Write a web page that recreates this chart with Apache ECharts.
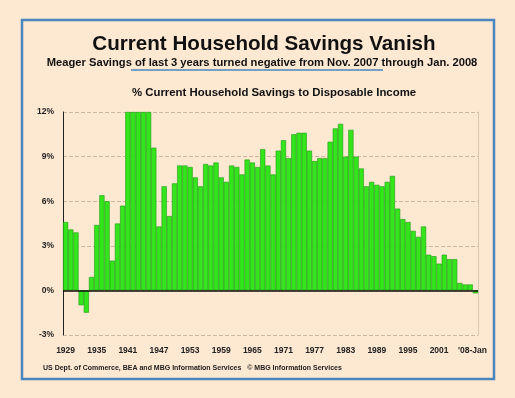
<!DOCTYPE html>
<html>
<head>
<meta charset="utf-8">
<script src="https://cdn.jsdelivr.net/npm/echarts@6/dist/echarts.min.js"></script>
<style>
  html, body { margin: 0; padding: 0; background: #fde8d2; }
  #chart { width: 515px; height: 398px; }
</style>
</head>
<body>
<div id="chart"></div>
<script>
// years 1929..2007, last bar is Jan 2008
const years = []
for (let y = 1929; y <= 2007; y++) years.push(String(y))
const categories = years.concat(["'08-Jan"])

// % household savings to disposable income (bars above 12 are clipped in the original)
const savings = [
  4.6, 4.1, 3.9, -1.0, -1.5, 0.9, 4.4, 6.4, 6.0, 2.0, 4.5, 5.7,
  12, 12, 12, 12, 12,
  9.6, 4.3, 7.0, 5.0, 7.2, 8.4, 8.4, 8.3, 7.6, 7.0,
  8.5, 8.4, 8.6, 7.6, 7.3, 8.4, 8.3, 7.8, 8.8, 8.6, 8.3, 9.5, 8.4, 7.8,
  9.4, 10.1, 8.9, 10.5, 10.6, 10.6, 9.4, 8.7, 8.9, 8.9, 10.0, 10.9, 11.2,
  9.0, 10.8, 9.0, 8.2, 7.0, 7.3, 7.1, 7.0, 7.3, 7.7,
  5.5, 4.8, 4.6, 4.0, 3.6, 4.3, 2.4, 2.3, 1.8, 2.4, 2.1, 2.1,
  0.5, 0.4, 0.4, -0.2
]

const yTicks = [-3, 0, 3, 6, 9, 12]

const font = 'Liberation Sans, Arial, sans-serif'
const chart = echarts.init(document.getElementById('chart'))

chart.setOption({
  backgroundColor: '#fde8d2',
  animation: false,
  title: [{
    text: 'Current Household Savings Vanish',
    left: 259,
    textAlign: 'center',
    top: 29,
    textStyle: { fontFamily: font, fontSize: 20.6, fontWeight: 'bold', color: '#111' }
  }, {
    text: 'Meager Savings of last 3 years turned negative from Nov. 2007 through Jan. 2008',
    left: 257,
    textAlign: 'center',
    top: 52,
    textStyle: { fontFamily: font, fontSize: 11.2, fontWeight: 'bold', color: '#111' }
  }, {
    text: '% Current Household Savings to Disposable Income',
    left: 269,
    textAlign: 'center',
    top: 82,
    textStyle: { fontFamily: font, fontSize: 11.4, fontWeight: 'bold', color: '#111' }
  }, {
    text: 'US Dept. of Commerce, BEA and MBG Information Services   \u00a9 MBG Information Services',
    left: 43,
    top: 365,
    padding: 0,
    textStyle: { fontFamily: font, fontSize: 7, fontWeight: 'bold', color: '#222' }
  }],
  graphic: [{
    type: 'rect',
    shape: { x: 22, y: 20, width: 472, height: 359 },
    style: { fill: 'none', stroke: '#4a86be', lineWidth: 2.5 },
    silent: true
  }, {
    type: 'line',
    shape: { x1: 131, y1: 70, x2: 383, y2: 70 },
    style: { stroke: '#4a86be', lineWidth: 1.5 },
    silent: true
  }],
  grid: { left: 63, right: 37, top: 112, bottom: 63 },
  xAxis: {
    type: 'category',
    data: categories,
    axisLine: { show: false },
    axisTick: {
      inside: true,
      length: 4,
      interval: 0,
      lineStyle: { color: '#999' }
    },
    axisLabel: {
      interval: (i) => (i % 6 === 0 && i < 78) || i === 79,
      margin: 11,
      fontFamily: font,
      fontSize: 8.5,
      fontWeight: 'bold',
      color: '#222',
      formatter: (v, i) => i === 79 ? '{j|' + v + '}' : v,
      rich: {
        j: { fontFamily: font, fontSize: 8.5, fontWeight: 'bold', color: '#222', padding: [0, 6, 0, 0] }
      }
    }
  },
  yAxis: [{
    type: 'value',
    min: yTicks[0],
    max: yTicks[yTicks.length - 1],
    interval: 3,
    axisLine: { show: true, lineStyle: { color: '#222', width: 1 } },
    axisTick: { show: false },
    axisLabel: {
      margin: 9,
      formatter: '{value}%',
      fontFamily: font,
      fontSize: 8.5,
      fontWeight: 'bold',
      color: '#222'
    },
    splitLine: { show: true, lineStyle: { color: '#c9b7a4', type: 'dashed', width: 1 } }
  }, {
    type: 'value',
    position: 'right',
    min: yTicks[0],
    max: yTicks[yTicks.length - 1],
    interval: 3,
    axisLine: { show: true, lineStyle: { color: '#d2c0ad', type: 'dotted', width: 1 } },
    axisTick: { show: false },
    axisLabel: { show: false },
    splitLine: { show: false }
  }],
  series: [{
    name: 'Savings',
    type: 'bar',
    data: savings,
    barCategoryGap: 0,
    itemStyle: { color: '#33e61c', borderColor: '#1f9a12', borderWidth: 0.6 },
    markLine: {
      silent: true,
      symbol: 'none',
      label: { show: false },
      lineStyle: { color: '#111', type: 'solid', width: 1.5 },
      data: [{ yAxis: 0 }]
    }
  }]
})
</script>
</body>
</html>
